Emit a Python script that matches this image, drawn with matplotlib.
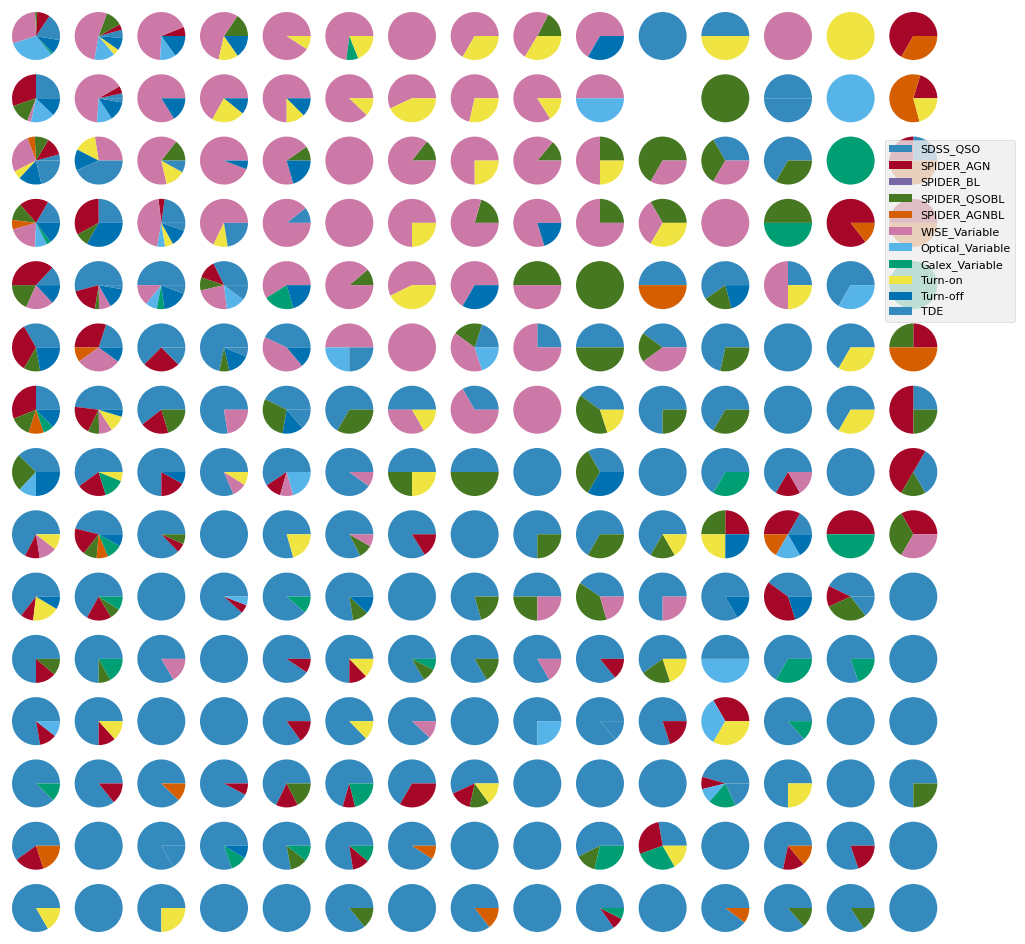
import matplotlib
matplotlib.use("Agg")
import matplotlib.pyplot as plt
from matplotlib.patches import Patch

plt.style.use("bmh")

categories = ["SDSS_QSO", "SPIDER_AGN", "SPIDER_BL", "SPIDER_QSOBL", "SPIDER_AGNBL",
              "WISE_Variable", "Optical_Variable", "Galex_Variable", "Turn-on",
              "Turn-off", "TDE"]
colors = ["#348ABD", "#A60628", "#7A68A6", "#467821", "#D55E00", "#CC79A7",
          "#56B4E9", "#009E73", "#F0E442", "#0072B2", "#348ABD"]

# each pie: [SDSS_QSO, AGN, BL, QSOBL, AGNBL, WISE, Optical, Galex, Turn-on, Turn-off, TDE]
row_01 = [
    [56, 31, 0, 5, 0, 106, 112, 5, 0, 35, 10],
    [15, 14, 0, 41, 0, 190, 50, 0, 15, 30, 5],
    [0, 22, 0, 0, 0, 245, 39, 0, 0, 54, 0],
    [0, 0, 0, 56, 0, 201, 0, 0, 48, 55, 0],
    [0, 0, 0, 0, 0, 327, 0, 0, 33, 0, 0],
    [0, 0, 0, 0, 0, 263, 0, 29, 68, 0, 0],
    [0, 0, 0, 0, 0, 1, 0, 0, 0, 0, 0],
    [0, 0, 0, 0, 0, 240, 0, 0, 120, 0, 0],
    [0, 0, 0, 63, 0, 176, 0, 0, 121, 0, 0],
    [0, 0, 0, 0, 0, 240, 0, 0, 0, 120, 0],
    [1, 0, 0, 0, 0, 0, 0, 0, 0, 0, 0],
    [180, 0, 0, 0, 0, 0, 0, 0, 180, 0, 0],
    [0, 0, 0, 0, 0, 1, 0, 0, 0, 0, 0],
    [0, 0, 0, 0, 0, 0, 0, 0, 1, 0, 0],
    [0, 240, 0, 0, 120, 0, 0, 0, 0, 0, 0],
]
row_02 = [
    [90, 109, 0, 50, 0, 9, 58, 0, 0, 44, 0],
    [12, 18, 0, 0, 0, 236, 37, 0, 0, 47, 10],
    [0, 0, 0, 0, 0, 302, 0, 0, 0, 58, 0],
    [0, 0, 0, 0, 0, 241, 0, 0, 80, 39, 0],
    [0, 0, 0, 0, 0, 270, 0, 0, 45, 45, 0],
    [0, 0, 0, 0, 0, 316, 0, 0, 44, 0, 0],
    [0, 0, 0, 0, 0, 205, 0, 0, 155, 0, 0],
    [0, 0, 0, 0, 0, 257, 0, 0, 103, 0, 0],
    [0, 0, 0, 0, 0, 302, 0, 0, 58, 0, 0],
    [0, 0, 0, 0, 0, 180, 180, 0, 0, 0, 0],
    None,
    [0, 0, 0, 1, 0, 0, 0, 0, 0, 0, 0],
    [180, 0, 0, 0, 0, 0, 0, 0, 0, 0, 180],
    [0, 0, 0, 0, 0, 0, 1, 0, 0, 0, 0],
    [0, 73, 0, 0, 212, 0, 0, 0, 75, 0, 0],
]
row_03 = [
    [15, 44, 0, 34, 18, 96, 0, 0, 20, 56, 77],
    [0, 0, 0, 0, 0, 99, 0, 0, 54, 51, 156],
    [0, 0, 0, 52, 0, 231, 0, 0, 48, 0, 29],
    [0, 0, 0, 0, 0, 339, 0, 0, 0, 21, 0],
    [0, 0, 0, 35, 0, 251, 0, 0, 0, 74, 0],
    [0, 0, 0, 0, 0, 1, 0, 0, 0, 0, 0],
    [0, 0, 0, 52, 0, 308, 0, 0, 0, 0, 0],
    [0, 0, 0, 0, 0, 270, 0, 0, 90, 0, 0],
    [0, 0, 0, 50, 0, 310, 0, 0, 0, 0, 0],
    [0, 0, 0, 90, 0, 180, 0, 0, 90, 0, 0],
    [0, 0, 0, 240, 0, 120, 0, 0, 0, 0, 0],
    [120, 0, 0, 120, 0, 120, 0, 0, 0, 0, 0],
    [240, 0, 0, 120, 0, 0, 0, 0, 0, 0, 0],
    [0, 0, 0, 0, 0, 0, 0, 1, 0, 0, 0],
    [90, 90, 0, 0, 180, 0, 0, 0, 0, 0, 0],
]
row_04 = [
    [60, 71, 0, 42, 23, 72, 29, 11, 0, 52, 0],
    [90, 119, 0, 32, 0, 0, 0, 0, 0, 119, 0],
    [82, 15, 0, 0, 0, 163, 19, 0, 20, 42, 19],
    [0, 0, 0, 0, 0, 244, 0, 0, 35, 0, 81],
    [38, 0, 0, 0, 0, 322, 0, 0, 0, 0, 0],
    [0, 0, 0, 0, 0, 1, 0, 0, 0, 0, 0],
    [0, 0, 0, 0, 0, 270, 0, 0, 90, 0, 0],
    [0, 0, 0, 74, 0, 286, 0, 0, 0, 0, 0],
    [0, 0, 0, 0, 0, 287, 0, 0, 0, 73, 0],
    [0, 0, 0, 90, 0, 270, 0, 0, 0, 0, 0],
    [0, 0, 0, 120, 0, 120, 0, 0, 120, 0, 0],
    [0, 0, 0, 0, 0, 1, 0, 0, 0, 0, 0],
    [0, 0, 0, 180, 0, 0, 0, 180, 0, 0, 0],
    [0, 308, 0, 0, 52, 0, 0, 0, 0, 0, 0],
    [0, 180, 0, 0, 180, 0, 0, 0, 0, 0, 0],
]
row_05 = [
    [47, 133, 0, 66, 0, 67, 0, 0, 0, 47, 0],
    [195, 66, 0, 10, 0, 29, 0, 0, 0, 50, 10],
    [180, 0, 0, 0, 0, 51, 28, 18, 0, 62, 21],
    [116, 45, 0, 32, 0, 84, 46, 0, 0, 0, 37],
    [0, 0, 0, 0, 0, 212, 0, 74, 0, 74, 0],
    [0, 0, 0, 40, 0, 320, 0, 0, 0, 0, 0],
    [0, 0, 0, 0, 0, 206, 0, 0, 154, 0, 0],
    [0, 0, 0, 0, 0, 240, 0, 0, 0, 120, 0],
    [0, 0, 0, 180, 0, 180, 0, 0, 0, 0, 0],
    [0, 0, 0, 1, 0, 0, 0, 0, 0, 0, 0],
    [180, 0, 0, 0, 180, 0, 0, 0, 0, 0, 0],
    [215, 0, 0, 70, 0, 0, 0, 0, 0, 75, 0],
    [90, 0, 0, 0, 0, 180, 0, 0, 90, 0, 0],
    [240, 0, 0, 0, 0, 0, 120, 0, 0, 0, 0],
    [0, 0, 0, 0, 0, 0, 0, 1, 0, 0, 0],
]
row_06 = [
    [120, 120, 0, 40, 0, 0, 0, 0, 0, 80, 0],
    [72, 108, 0, 0, 36, 108, 0, 0, 0, 36, 0],
    [225, 90, 0, 0, 0, 0, 0, 0, 0, 0, 45],
    [259, 0, 0, 24, 0, 0, 0, 0, 0, 55, 22],
    [155, 0, 0, 0, 0, 155, 0, 0, 0, 50, 0],
    [0, 0, 0, 0, 0, 180, 90, 0, 0, 0, 90],
    [0, 0, 0, 0, 0, 1, 0, 0, 0, 0, 0],
    [72, 0, 0, 72, 0, 144, 72, 0, 0, 0, 0],
    [90, 0, 0, 0, 0, 270, 0, 0, 0, 0, 0],
    [180, 0, 0, 180, 0, 0, 0, 0, 0, 0, 0],
    [144, 0, 0, 72, 0, 144, 0, 0, 0, 0, 0],
    [258, 0, 0, 102, 0, 0, 0, 0, 0, 0, 0],
    [1, 0, 0, 0, 0, 0, 0, 0, 0, 0, 0],
    [240, 0, 0, 0, 0, 0, 0, 0, 120, 0, 0],
    [0, 90, 0, 90, 180, 0, 0, 0, 0, 0, 0],
]
row_07 = [
    [90, 112, 0, 50, 37, 0, 0, 26, 0, 45, 0],
    [173, 71, 0, 27, 0, 32, 0, 0, 40, 17, 0],
    [218, 69, 0, 73, 0, 0, 0, 0, 0, 0, 0],
    [279, 0, 0, 0, 0, 81, 0, 0, 0, 0, 0],
    [154, 0, 0, 106, 0, 0, 0, 0, 0, 51, 49],
    [240, 0, 0, 120, 0, 0, 0, 0, 0, 0, 0],
    [180, 0, 0, 0, 0, 120, 0, 0, 60, 0, 0],
    [120, 0, 0, 0, 0, 240, 0, 0, 0, 0, 0],
    [0, 0, 0, 0, 0, 1, 0, 0, 0, 0, 0],
    [144, 0, 0, 144, 0, 0, 0, 0, 72, 0, 0],
    [270, 0, 0, 90, 0, 0, 0, 0, 0, 0, 0],
    [240, 0, 0, 120, 0, 0, 0, 0, 0, 0, 0],
    [1, 0, 0, 0, 0, 0, 0, 0, 0, 0, 0],
    [240, 0, 0, 0, 0, 0, 0, 0, 120, 0, 0],
    [90, 180, 0, 90, 0, 0, 0, 0, 0, 0, 0],
]
row_08 = [
    [136, 0, 0, 91, 0, 0, 43, 0, 0, 90, 0],
    [216, 71, 0, 0, 0, 0, 0, 51, 22, 0, 0],
    [270, 61, 0, 0, 0, 0, 0, 0, 0, 29, 0],
    [293, 0, 0, 0, 0, 35, 0, 0, 32, 0, 0],
    [214, 40, 0, 0, 0, 32, 74, 0, 0, 0, 0],
    [324, 0, 0, 0, 0, 36, 0, 0, 0, 0, 0],
    [180, 0, 0, 90, 0, 0, 0, 0, 90, 0, 0],
    [180, 0, 0, 180, 0, 0, 0, 0, 0, 0, 0],
    [1, 0, 0, 0, 0, 0, 0, 0, 0, 0, 0],
    [120, 0, 0, 120, 0, 0, 0, 0, 0, 120, 0],
    [1, 0, 0, 0, 0, 0, 0, 0, 0, 0, 0],
    [240, 0, 0, 0, 0, 0, 0, 120, 0, 0, 0],
    [240, 60, 0, 0, 0, 60, 0, 0, 0, 0, 0],
    [1, 0, 0, 0, 0, 0, 0, 0, 0, 0, 0],
    [60, 180, 0, 60, 0, 0, 0, 0, 0, 0, 60],
]
row_09 = [
    [243, 36, 0, 0, 0, 43, 0, 0, 38, 0, 0],
    [166, 66, 0, 33, 28, 0, 0, 38, 0, 29, 0],
    [314, 22, 0, 24, 0, 0, 0, 0, 0, 0, 0],
    [1, 0, 0, 0, 0, 0, 0, 0, 0, 0, 0],
    [286, 0, 0, 0, 0, 0, 0, 0, 74, 0, 0],
    [297, 0, 0, 33, 0, 30, 0, 0, 0, 0, 0],
    [302, 58, 0, 0, 0, 0, 0, 0, 0, 0, 0],
    [1, 0, 0, 0, 0, 0, 0, 0, 0, 0, 0],
    [270, 0, 0, 90, 0, 0, 0, 0, 0, 0, 0],
    [240, 0, 0, 120, 0, 0, 0, 0, 0, 0, 0],
    [240, 0, 0, 60, 0, 0, 0, 0, 60, 0, 0],
    [0, 90, 0, 90, 0, 0, 0, 0, 90, 90, 0],
    [60, 120, 0, 0, 60, 0, 60, 0, 0, 60, 0],
    [0, 180, 0, 0, 0, 0, 0, 180, 0, 0, 0],
    [0, 120, 0, 120, 0, 120, 0, 0, 0, 0, 0],
]
row_10 = [
    [232, 31, 0, 0, 0, 0, 0, 0, 66, 31, 0],
    [241, 60, 0, 26, 0, 0, 0, 33, 0, 0, 0],
    [1, 0, 0, 0, 0, 0, 0, 0, 0, 0, 0],
    [318, 21, 0, 0, 0, 0, 21, 0, 0, 0, 0],
    [319, 0, 0, 0, 0, 0, 0, 41, 0, 0, 0],
    [279, 0, 0, 38, 0, 0, 0, 0, 0, 43, 0],
    [1, 0, 0, 0, 0, 0, 0, 0, 0, 0, 0],
    [286, 0, 0, 74, 0, 0, 0, 0, 0, 0, 0],
    [180, 0, 0, 90, 0, 90, 0, 0, 0, 0, 0],
    [146, 0, 0, 140, 0, 74, 0, 0, 0, 0, 0],
    [270, 0, 0, 0, 0, 90, 0, 0, 0, 0, 0],
    [300, 0, 0, 0, 0, 0, 0, 0, 0, 60, 0],
    [144, 144, 0, 0, 0, 0, 0, 0, 0, 72, 0],
    [154, 51, 0, 103, 0, 0, 0, 0, 0, 0, 52],
    [1, 0, 0, 0, 0, 0, 0, 0, 0, 0, 0],
]
row_11 = [
    [270, 50, 0, 40, 0, 0, 0, 0, 0, 0, 0],
    [270, 0, 0, 29, 0, 0, 0, 61, 0, 0, 0],
    [300, 0, 0, 0, 0, 60, 0, 0, 0, 0, 0],
    [1, 0, 0, 0, 0, 0, 0, 0, 0, 0, 0],
    [326, 34, 0, 0, 0, 0, 0, 0, 0, 0, 0],
    [270, 44, 0, 0, 0, 0, 0, 0, 46, 0, 0],
    [300, 0, 0, 33, 0, 0, 0, 27, 0, 0, 0],
    [300, 0, 0, 60, 0, 0, 0, 0, 0, 0, 0],
    [300, 0, 0, 0, 0, 60, 0, 0, 0, 0, 0],
    [309, 51, 0, 0, 0, 0, 0, 0, 0, 0, 0],
    [216, 0, 0, 72, 0, 0, 0, 0, 72, 0, 0],
    [180, 0, 0, 0, 0, 0, 180, 0, 0, 0, 0],
    [240, 0, 0, 0, 0, 0, 0, 120, 0, 0, 0],
    [289, 0, 0, 0, 0, 0, 0, 71, 0, 0, 0],
    [1, 0, 0, 0, 0, 0, 0, 0, 0, 0, 0],
]
row_12 = [
    [280, 42, 0, 0, 0, 0, 38, 0, 0, 0, 0],
    [270, 42, 0, 0, 0, 0, 0, 0, 48, 0, 0],
    [1, 0, 0, 0, 0, 0, 0, 0, 0, 0, 0],
    [1, 0, 0, 0, 0, 0, 0, 0, 0, 0, 0],
    [306, 54, 0, 0, 0, 0, 0, 0, 0, 0, 0],
    [314, 0, 0, 0, 0, 0, 0, 0, 46, 0, 0],
    [317, 0, 0, 0, 0, 43, 0, 0, 0, 0, 0],
    [1, 0, 0, 0, 0, 0, 0, 0, 0, 0, 0],
    [270, 0, 0, 0, 0, 0, 90, 0, 0, 0, 0],
    [310, 0, 0, 0, 0, 0, 0, 0, 0, 0, 50],
    [288, 72, 0, 0, 0, 0, 0, 0, 0, 0, 0],
    [0, 120, 0, 0, 0, 0, 120, 0, 120, 0, 0],
    [312, 0, 0, 0, 0, 0, 0, 48, 0, 0, 0],
    [1, 0, 0, 0, 0, 0, 0, 0, 0, 0, 0],
    [1, 0, 0, 0, 0, 0, 0, 0, 0, 0, 0],
]
row_13 = [
    [316, 0, 0, 0, 0, 0, 0, 44, 0, 0, 0],
    [309, 51, 0, 0, 0, 0, 0, 0, 0, 0, 0],
    [316, 0, 0, 0, 44, 0, 0, 0, 0, 0, 0],
    [332, 28, 0, 0, 0, 0, 0, 0, 0, 0, 0],
    [244, 53, 0, 63, 0, 0, 0, 0, 0, 0, 0],
    [254, 30, 0, 0, 0, 0, 0, 76, 0, 0, 0],
    [240, 120, 0, 0, 0, 0, 0, 0, 0, 0, 0],
    [205, 53, 0, 48, 0, 0, 0, 0, 54, 0, 0],
    [1, 0, 0, 0, 0, 0, 0, 0, 0, 0, 0],
    [1, 0, 0, 0, 0, 0, 0, 0, 0, 0, 0],
    [1, 0, 0, 0, 0, 0, 0, 0, 0, 0, 0],
    [164, 30, 0, 0, 0, 0, 35, 66, 0, 0, 65],
    [270, 0, 0, 0, 0, 0, 0, 0, 90, 0, 0],
    [1, 0, 0, 0, 0, 0, 0, 0, 0, 0, 0],
    [270, 0, 0, 90, 0, 0, 0, 0, 0, 0, 0],
]
row_14 = [
    [216, 72, 0, 0, 72, 0, 0, 0, 0, 0, 0],
    [1, 0, 0, 0, 0, 0, 0, 0, 0, 0, 0],
    [300, 0, 0, 0, 0, 0, 0, 0, 0, 0, 60],
    [289, 0, 0, 0, 0, 0, 0, 40, 0, 31, 0],
    [280, 0, 0, 42, 0, 0, 0, 38, 0, 0, 0],
    [279, 41, 0, 0, 0, 0, 0, 40, 0, 0, 0],
    [327, 0, 0, 0, 33, 0, 0, 0, 0, 0, 0],
    [1, 0, 0, 0, 0, 0, 0, 0, 0, 0, 0],
    [1, 0, 0, 0, 0, 0, 0, 0, 0, 0, 0],
    [207, 0, 0, 50, 0, 0, 0, 103, 0, 0, 0],
    [100, 100, 0, 0, 0, 0, 0, 100, 60, 0, 0],
    [1, 0, 0, 0, 0, 0, 0, 0, 0, 0, 0],
    [258, 52, 0, 0, 50, 0, 0, 0, 0, 0, 0],
    [289, 71, 0, 0, 0, 0, 0, 0, 0, 0, 0],
    [1, 0, 0, 0, 0, 0, 0, 0, 0, 0, 0],
]
row_15 = [
    [300, 0, 0, 0, 0, 0, 0, 0, 60, 0, 0],
    [1, 0, 0, 0, 0, 0, 0, 0, 0, 0, 0],
    [270, 0, 0, 0, 0, 0, 0, 0, 90, 0, 0],
    [1, 0, 0, 0, 0, 0, 0, 0, 0, 0, 0],
    [1, 0, 0, 0, 0, 0, 0, 0, 0, 0, 0],
    [309, 0, 0, 51, 0, 0, 0, 0, 0, 0, 0],
    [1, 0, 0, 0, 0, 0, 0, 0, 0, 0, 0],
    [308, 0, 0, 0, 52, 0, 0, 0, 0, 0, 0],
    [1, 0, 0, 0, 0, 0, 0, 0, 0, 0, 0],
    [305, 28, 0, 0, 0, 0, 0, 27, 0, 0, 0],
    [1, 0, 0, 0, 0, 0, 0, 0, 0, 0, 0],
    [323, 0, 0, 0, 37, 0, 0, 0, 0, 0, 0],
    [311, 0, 0, 49, 0, 0, 0, 0, 0, 0, 0],
    [303, 0, 0, 57, 0, 0, 0, 0, 0, 0, 0],
    [1, 0, 0, 0, 0, 0, 0, 0, 0, 0, 0],
]

grid = [row_01, row_02, row_03, row_04, row_05, row_06, row_07, row_08,
        row_09, row_10, row_11, row_12, row_13, row_14, row_15]

fig, axes = plt.subplots(15, 15, figsize=(10.25, 9.44), dpi=100)
fig.subplots_adjust(left=0.00585, right=0.9203, bottom=0.00636, top=0.99364,
                    wspace=0.0443, hspace=0.0383)

for i, row in enumerate(grid):
    for j, vals in enumerate(row):
        ax = axes[i, j]
        if vals is None:
            ax.axis("off")
            continue
        ax.pie(vals, colors=colors, startangle=0, counterclock=True)

handles = [Patch(facecolor=c) for c in colors]
fig.legend(handles, categories, loc="upper left",
           bbox_to_anchor=(885 / 1025, 1 - 140 / 944), borderaxespad=0,
           fontsize=8, labelspacing=0.5)

fig.savefig("out.png", dpi=100)
